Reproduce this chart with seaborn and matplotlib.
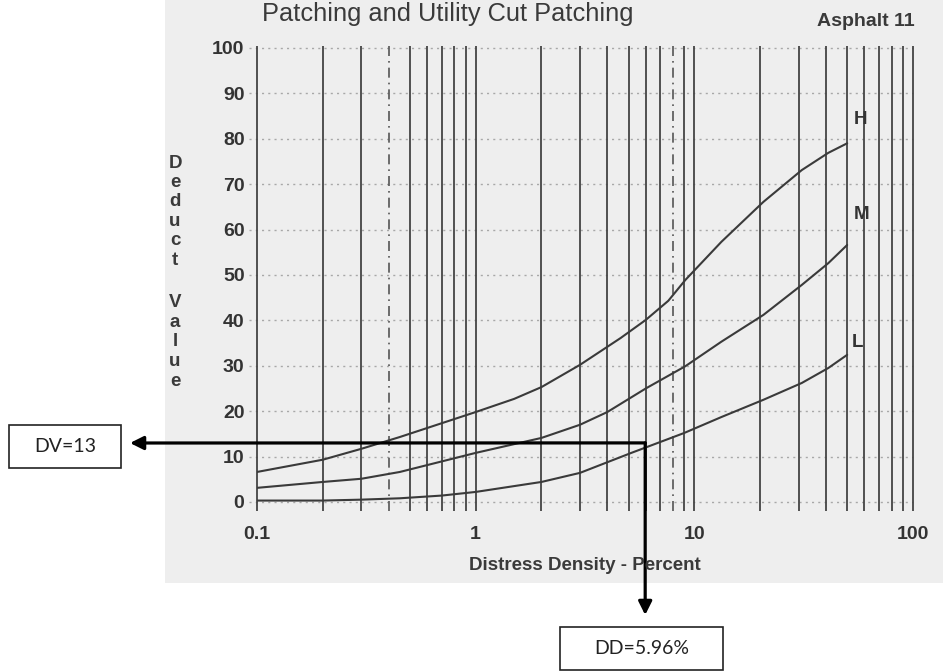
import numpy as np
import pandas as pd
import matplotlib
matplotlib.use('Agg')
import matplotlib.pyplot as plt
import seaborn as sns
from matplotlib.patches import Rectangle
from matplotlib.ticker import NullLocator

# ---- data ----
dd_high = [0.1, 0.2, 0.3, 0.45, 1.0, 1.5, 2.0, 3.0, 4.6, 6.0, 7.6, 9.1, 13.3, 20.7, 31, 41, 50]
dv_high = [6.6, 9.3, 11.7, 14.3, 19.8, 22.7, 25.3, 30.2, 36.1, 40.1, 44.3, 48.9, 57.3, 66.1, 73.1, 76.9, 79.0]
dd_med = [0.1, 0.2, 0.3, 0.45, 1.0, 2.0, 3.0, 4.0, 6.0, 9.1, 13.3, 20.7, 31, 41, 50]
dv_med = [3.1, 4.4, 5.1, 6.6, 10.8, 14.1, 17.0, 19.8, 25.0, 29.9, 35.3, 41.2, 47.8, 52.6, 56.6]
dd_low = [0.1, 0.2, 0.3, 0.45, 0.7, 1.0, 2.0, 3.0, 5.15, 9.0, 13.3, 20.7, 31, 41, 50]
dv_low = [0.3, 0.3, 0.5, 0.8, 1.4, 2.2, 4.4, 6.4, 10.8, 15.2, 18.7, 22.5, 26.2, 29.5, 32.4]
severities = ['H', 'M', 'L']
x_ticks = [0.1, 1, 10, 100]
x_tick_labels = ['0.1', '1', '10', '100']
y_ticks = list(range(0, 101, 10))
grid_x = [0.1, 0.2, 0.3, 0.4, 0.5, 0.6, 0.7, 0.8, 0.9,
          1, 2, 3, 4, 5, 6, 7, 8, 9,
          10, 20, 30, 40, 50, 60, 70, 80, 90, 100]
dashed_grid_x = [0.4, 8]
dd_result = 5.96
dv_result = 13
title_left = 'Patching and Utility Cut Patching'
title_right = 'Asphalt 11'
x_label = 'Distress Density - Percent'
y_label_words = ['Deduct', 'Value']

df = pd.concat([
    pd.DataFrame({'dd': dd_high, 'dv': dv_high, 'sev': 'H'}),
    pd.DataFrame({'dd': dd_med, 'dv': dv_med, 'sev': 'M'}),
    pd.DataFrame({'dd': dd_low, 'dv': dv_low, 'sev': 'L'}),
], ignore_index=True)

sns.set_style('white')
plt.rcParams['font.family'] = ['Liberation Sans', 'DejaVu Sans']

W, H = 943, 672
fig = plt.figure(figsize=(W / 100, H / 100), dpi=100)
fig.patch.set_facecolor('white')

# scanned paper background
fig.patches.append(Rectangle((165 / W, (H - 583) / H), (W - 165) / W, 583 / H,
                             transform=fig.transFigure, facecolor='#eeeeee',
                             edgecolor='none', zorder=-10))

ax_left, ax_right = 257, 913
ax_top, ax_bottom = 45.7, 511
ax = fig.add_axes([ax_left / W, (H - ax_bottom) / H,
                   (ax_right - ax_left) / W, (ax_bottom - ax_top) / H])
ax.set_zorder(1)
ax.set_facecolor('none')
ax.set_xscale('log')
ax.set_xlim(0.1, 100)
ax.set_ylim(-2, 100.5)
for s in ax.spines.values():
    s.set_visible(False)

# grid
ax.hlines(y_ticks, 0.092, 100, colors='#a8a8a8', linestyles=(0, (1.5, 3.0)),
          lw=1.0, clip_on=False, zorder=1)
solid_x = [g for g in grid_x if g not in dashed_grid_x]
ax.vlines(solid_x, -2, 100.5, colors='#444444', lw=1.3, clip_on=False, zorder=2)
ax.vlines(dashed_grid_x, -2, 100.5, colors='#555555', lw=1.2,
          linestyles=(0, (6, 3, 1, 3)), clip_on=False, zorder=2)

# curves
sns.lineplot(data=df, x='dd', y='dv', hue='sev', units='sev', estimator=None,
             sort=False, palette={'H': '#3a3a3a', 'M': '#3a3a3a', 'L': '#3a3a3a'},
             lw=1.5, legend=False, ax=ax, zorder=3)

# severity labels at curve ends
label_offsets = {'H': (5, 17), 'M': (5, 22), 'L': (3, 9)}
for sev, dd, dv in zip(severities, [dd_high, dd_med, dd_low], [dv_high, dv_med, dv_low]):
    ax.annotate(sev, xy=(dd[-1], dv[-1]), xytext=label_offsets[sev],
                textcoords='offset points', ha='left', va='center',
                fontsize=13.5, fontweight='bold', color='#333333')

ax.set_xticks(x_ticks, x_tick_labels)
ax.xaxis.set_minor_locator(NullLocator())
ax.set_yticks(y_ticks, [str(v) for v in y_ticks])
ax.tick_params(axis='both', length=0, labelsize=14, colors='#333333')
ax.tick_params(axis='y', pad=9)
ax.tick_params(axis='x', pad=11)
for t in ax.get_xticklabels() + ax.get_yticklabels():
    t.set_fontweight('bold')
ax.set_xlabel('')
ax.set_ylabel('')

# axis labels
fig.text(585 / W, (H - 565) / H, x_label, ha='center', va='center',
         fontsize=13.5, fontweight='bold', color='#3a3a3a')
for w_i, word in enumerate(y_label_words):
    start = 163 if w_i == 0 else 303
    for k, ch in enumerate(word):
        fig.text(175 / W, (H - (start + k * 19.5)) / H, ch, ha='center', va='center',
                 fontsize=13.5, fontweight='bold', color='#3a3a3a')

# titles
fig.text(262 / W, (H - 14) / H, title_left, ha='left', va='center',
         fontsize=18.3, color='#3a3a3a')
fig.text(915 / W, (H - 22) / H, title_right, ha='right', va='center',
         fontsize=14, fontweight='bold', color='#3a3a3a')

# annotation arrows
arrow_kw = dict(arrowstyle='-|>', lw=2.3, color='black',
                mutation_scale=20, shrinkA=0, shrinkB=0)
ax.annotate('', xy=(130, H - 443), xycoords='figure pixels',
            xytext=(dd_result, dv_result), textcoords='data',
            arrowprops=arrow_kw, annotation_clip=False, zorder=5)
ax.annotate('', xy=(dd_result, H - 615), xycoords=('data', 'figure pixels'),
            xytext=(dd_result, dv_result), textcoords='data',
            arrowprops=arrow_kw, annotation_clip=False, zorder=5)

# result boxes
def box(x0, y0, x1, y1, text):
    fig.patches.append(Rectangle((x0 / W, (H - y1) / H), (x1 - x0) / W, (y1 - y0) / H,
                                 transform=fig.transFigure, facecolor='white',
                                 edgecolor='#222222', lw=1.2, zorder=5))
    fig.text((x0 + x1) / 2 / W, (H - (y0 + y1) / 2) / H, text, ha='center', va='center',
             fontsize=14, color='#222222', family=['Lato', 'DejaVu Sans'], zorder=6)

box(9, 425, 121, 468, f'DV={dv_result}')
box(560, 627, 723, 670, f'DD={dd_result}%')

fig.savefig('out.png', dpi=100)
